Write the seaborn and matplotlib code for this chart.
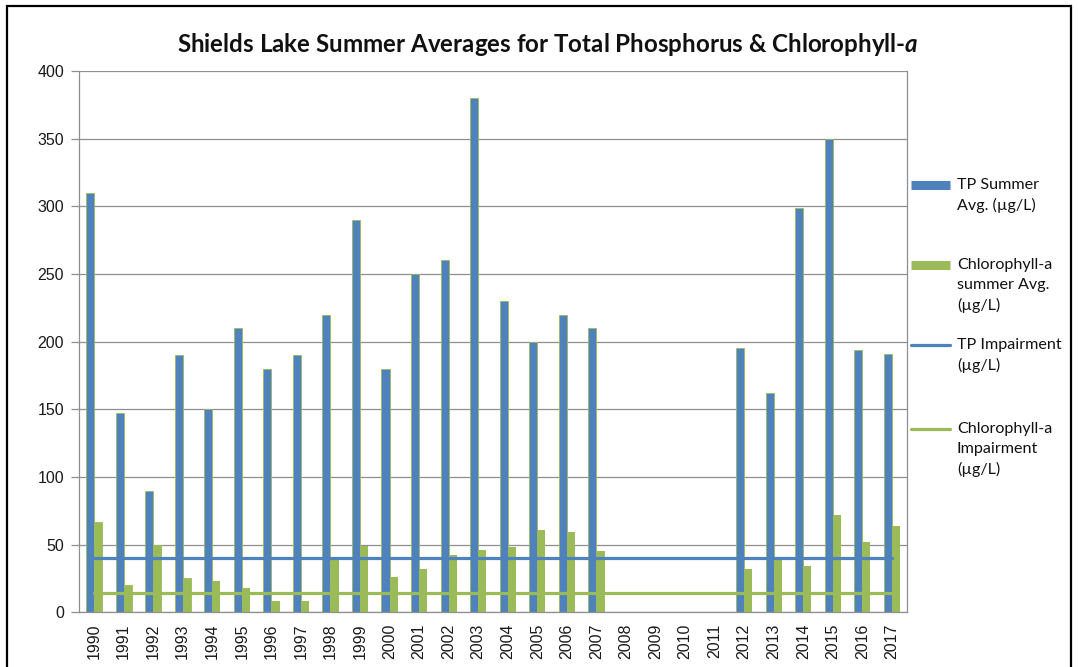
"""Shields Lake summer averages for total phosphorus & chlorophyll-a."""

import matplotlib

matplotlib.use("Agg")

import matplotlib.pyplot as plt
import numpy as np
import pandas as pd
import seaborn as sns
from matplotlib.lines import Line2D
from matplotlib.patches import Rectangle


YEARS = [str(y) for y in range(1990, 2018)]

TP_SUMMER_AVG = [310, 147, 90, 190, 150, 210, 180, 190, 220, 290,
                 180, 250, 260, 380, 230, 200, 220, 210, np.nan, np.nan,
                 np.nan, np.nan, 195, 162, 299, 350, 194, 191]

CHLA_SUMMER_AVG = [67, 20, 50, 25, 23, 18, 8, 8, 39, 49,
                   26, 32, 42, 46, 48, 61, 59, 45, np.nan, np.nan,
                   np.nan, np.nan, 32, 39, 34, 72, 52, 64]

TP_IMPAIRMENT = 40
CHLA_IMPAIRMENT = 14

SERIES = ["TP Summer\nAvg. (\u00b5g/L)", "Chlorophyll-a\nsummer Avg.\n(\u00b5g/L)"]
LINE_LABELS = ["TP Impairment\n(\u00b5g/L)", "Chlorophyll-a\nImpairment\n(\u00b5g/L)"]

# top of each legend entry, in pixels from the top of the figure
LEGEND_TOPS = [178, 258, 338, 422]

BLUE = "#4f81bd"
GREEN = "#9bbb59"
GRID = "#8f8f8f"


def main() -> None:
    sns.set_theme(style="white")
    plt.rcParams["font.family"] = ["Liberation Sans", "DejaVu Sans"]
    plt.rcParams["mathtext.fontset"] = "custom"
    plt.rcParams["mathtext.it"] = "Lato:italic:bold"
    plt.rcParams["mathtext.rm"] = "Lato:bold"

    df = pd.DataFrame({
        "year": YEARS * 2,
        "value": TP_SUMMER_AVG + CHLA_SUMMER_AVG,
        "series": [SERIES[0]] * len(YEARS) + [SERIES[1]] * len(YEARS),
    })

    fig = plt.figure(figsize=(10.79, 6.67), dpi=100)
    ax = fig.add_axes([0.0735, 0.082, 0.7668, 0.8116])

    sns.barplot(data=df, x="year", y="value", hue="series", order=YEARS,
                palette=[BLUE, GREEN], width=0.55, gap=0, errorbar=None,
                legend=False, ax=ax, saturation=1)
    n = len(YEARS)
    for i, bar in enumerate(ax.patches):
        bar.set_edgecolor(GREEN)
        bar.set_linewidth(0.6 if i < n else 0)

    x = np.arange(n)
    ax.plot(x, [TP_IMPAIRMENT] * n, color=BLUE, lw=2.3, zorder=4)
    ax.plot(x, [CHLA_IMPAIRMENT] * n, color=GREEN, lw=2.3, zorder=4)

    ax.set_xlim(-0.5, n - 0.5)
    ax.set_ylim(0, 400)
    ax.set_yticks(range(0, 401, 50))
    ax.yaxis.grid(True, color=GRID, lw=0.9)
    ax.set_axisbelow(True)
    ax.set_xlabel("")
    ax.set_ylabel("")

    ax.set_xticks(x)
    ax.set_xticklabels(YEARS, rotation=90, fontsize=11.5, color="#1a1a1a")
    ax.set_xticks(np.arange(-0.5, n, 1.0), minor=True)
    ax.tick_params(axis="x", which="major", length=0, pad=8)
    ax.tick_params(axis="x", which="minor", length=5, color=GRID, width=0.9, direction="out")
    ax.tick_params(axis="y", length=6, color=GRID, width=0.9, direction="out",
                   labelsize=11.5, labelcolor="#1a1a1a", pad=5)
    ax.tick_params(axis="both", bottom=True, left=True)

    for side in ["left", "bottom", "right"]:
        ax.spines[side].set_visible(True)
        ax.spines[side].set_color(GRID)
        ax.spines[side].set_linewidth(0.9)
    ax.spines["top"].set_visible(False)

    fig.text(0.508, 0.933,
             r"Shields Lake Summer Averages for Total Phosphorus & Chlorophyll-$\mathit{a}$",
             ha="center", va="center", fontsize=17.4, fontweight="bold",
             family=["Lato", "DejaVu Sans"], color="#111111")

    # Excel-style legend: handle next to the first line of each label
    handles = [
        Line2D([0], [0], color=BLUE, lw=6.5, solid_capstyle="butt"),
        Line2D([0], [0], color=GREEN, lw=6.5, solid_capstyle="butt"),
        Line2D([0], [0], color=BLUE, lw=2.3),
        Line2D([0], [0], color=GREEN, lw=2.3),
    ]
    labels = SERIES + LINE_LABELS
    for handle, label, top in zip(handles, labels, LEGEND_TOPS):
        leg = fig.legend([handle], [label], loc="upper left",
                         bbox_to_anchor=(911 / 1079, 1 - top / 667), frameon=False,
                         borderpad=0, borderaxespad=0, handlelength=2.4,
                         handleheight=1.15, handletextpad=0.45,
                         prop={"family": ["Lato", "DejaVu Sans"], "size": 11.6})
        for t in leg.get_texts():
            t.set_color("#111111")
            t.set_linespacing(1.5)
        for column in leg._legend_handle_box.get_children():
            for item in column.get_children():
                item.align = "top"

    fig.add_artist(Rectangle((7 / 1079, -0.02), 1064 / 1079, 1.02 - 6 / 667,
                             transform=fig.transFigure, fill=False,
                             edgecolor="black", lw=1.6))

    fig.savefig("out.png", dpi=100)
    plt.close(fig)


if __name__ == "__main__":
    main()
